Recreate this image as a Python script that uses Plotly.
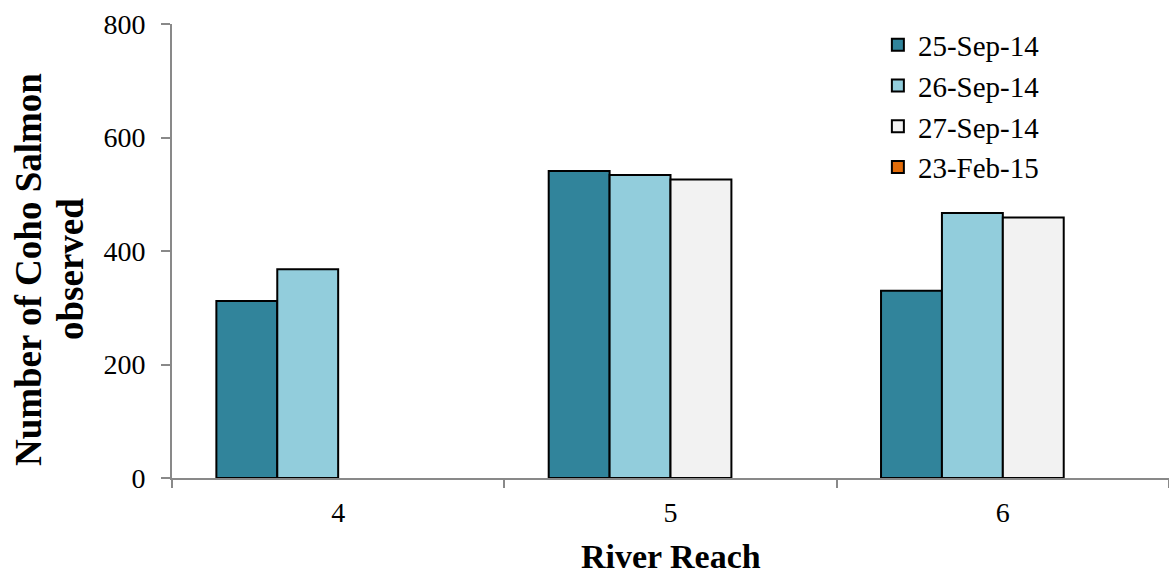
import plotly.graph_objects as go

reaches = ["4", "5", "6"]
dates = ["25-Sep-14", "26-Sep-14", "27-Sep-14", "23-Feb-15"]
coho_25sep14 = [312, 541, 330]
coho_26sep14 = [368, 534, 467]
coho_27sep14 = [None, 526, 459]
coho_23feb15 = [None, None, None]
colors = ["#31849B", "#92CDDC", "#F2F2F2", "#E36C09"]
y_title_lines = ["Number of Coho Salmon", "observed"]
x_title = "River Reach"

series = [coho_25sep14, coho_26sep14, coho_27sep14, coho_23feb15]
FONT = "Liberation Serif"

fig = go.Figure()
for name, vals, col in zip(dates, series, colors):
    fig.add_trace(go.Bar(
        x=reaches, y=vals, name=name,
        marker=dict(color=col, line=dict(color="#000000", width=2)),
    ))

# two-line rotated y-axis title, each line placed on its own
titles = [
    dict(text=f"<b>{line}</b>", xref="paper", yref="paper", x=xp, y=0.46,
         xanchor="center", yanchor="middle", textangle=-90, showarrow=False,
         font=dict(family=FONT, size=37, color="#000000"))
    for line, xp in zip(y_title_lines, [-0.1445, -0.1025])
]
titles.append(dict(
    text=f"<b>{x_title}</b>", xref="paper", yref="paper", x=0.5, y=-0.172,
    xanchor="center", yanchor="middle", showarrow=False,
    font=dict(family=FONT, size=34, color="#000000"),
))

fig.update_layout(
    width=1169, height=577,
    margin=dict(l=172, r=0, t=24, b=99),
    paper_bgcolor="white", plot_bgcolor="white",
    barmode="group", bargap=0.267, bargroupgap=0,
    font=dict(family=FONT, size=28, color="#000000"),
    showlegend=True,
    legend=dict(x=0.708, y=1.01, xanchor="left", yanchor="top",
                font=dict(family=FONT, size=29), bgcolor="rgba(0,0,0,0)",
                itemwidth=30),
    xaxis=dict(type="category", showline=True, linecolor="#898989", linewidth=2,
               ticks="outside", tickson="boundaries", ticklen=8, tickcolor="#898989",
               tickwidth=2, showgrid=False, zeroline=False, ticklabelstandoff=8,
               automargin=False),
    yaxis=dict(range=[0, 800], dtick=200, showline=True, linecolor="#898989", linewidth=2,
               ticks="outside", ticklen=9, tickcolor="#898989", tickwidth=2,
               showgrid=False, zeroline=False, ticklabelstandoff=10,
               automargin=False),
    annotations=titles,
)

fig.write_html("out.html")
